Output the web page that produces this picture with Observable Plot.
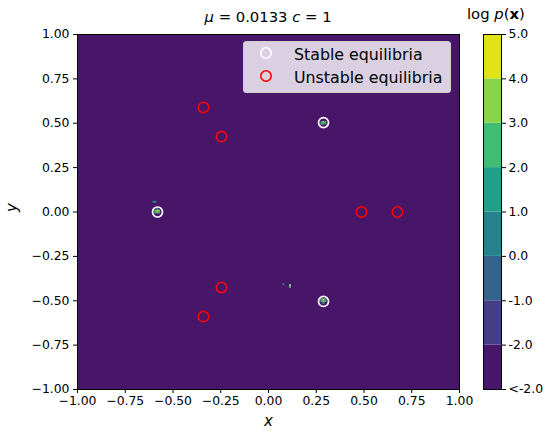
<!DOCTYPE html>
<html>
<head>
<meta charset="utf-8">
<script src="https://cdn.jsdelivr.net/npm/d3@7"></script>
<script src="https://cdn.jsdelivr.net/npm/@observablehq/plot@0.6"></script>
<style>
  html, body { margin: 0; padding: 0; background: #fff; }
  #chart { position: relative; width: 547px; height: 434px; font-family: "DejaVu Sans", sans-serif; color: #000; }
  #chart svg { position: absolute; top: 0; overflow: visible; }
  .title { position: absolute; font-size: 14.8px; white-space: nowrap; }
  .legend { position: absolute; left: 243px; top: 41px; width: 206px; height: 50px;
            background: rgba(255,255,255,0.8); border: 1px solid #cfcfcf; border-radius: 3px; }
  .legend .row { position: absolute; left: 0; height: 20px; font-size: 15.8px; white-space: nowrap; }
  .legend .row span { position: absolute; left: 50px; top: 0; line-height: 20px; }
  .legend .row svg { position: absolute; left: 14px; top: 3px; }
</style>
</head>
<body>
<div id="chart"></div>
<script>
// Equilibria of the system
const stableX = [-0.581, 0.288, 0.288];
const stableY = [0.0, 0.504, -0.504];
const unstableX = [-0.340, -0.246, 0.487, 0.675, -0.246, -0.340];
const unstableY = [0.589, 0.425, 0.0, 0.0, -0.425, -0.589];

// Grid cells where the log-density rises above the floor
const cellX = [
  -0.59, -0.58, -0.57, -0.59, -0.58, -0.57, -0.58,
  -0.60, -0.59,
  0.28, 0.29, 0.30, 0.28, 0.29, 0.30, 0.29,
  0.28, 0.29, 0.30, 0.28, 0.29, 0.30,
  0.08, 0.115, 0.115
];
const cellY = [
  0.005, 0.005, 0.005, -0.005, -0.005, -0.005, 0.015,
  0.055, 0.055,
  -0.495, -0.495, -0.495, -0.505, -0.505, -0.505, -0.515,
  0.505, 0.505, 0.505, 0.495, 0.495, 0.495,
  -0.41, -0.415, -0.425
];
const cellLogP = [
  2.5, 4.5, 3.5, 2.5, 3.5, 2.5, 1.5,
  0.5, 1.5,
  2.5, 4.5, 2.5, 2.5, 3.5, 2.5, 1.5,
  1.5, 3.5, 2.5, 2.5, 2.5, 1.5,
  0.5, 3.5, 2.5
];

// Contour levels and colour bar labels
const levels = [-2, -1, 0, 1, 2, 3, 4];
const barTicks = [-3, -2, -1, 0, 1, 2, 3, 4, 5];
const barLabels = ["<-2.0", "-2.0", "-1.0", "0.0", "1.0", "2.0", "3.0", "4.0", "5.0"];
const axisTicks = [-1, -0.75, -0.5, -0.25, 0, 0.25, 0.5, 0.75, 1];

const bandColors = d3.range(8).map(i => d3.interpolateViridis(0.055 + i * 0.895 / 7));

const cells = cellX.map((x, i) => ({x, y: cellY[i], v: cellLogP[i]}));
const stable = stableX.map((x, i) => ({x, y: stableY[i]}));
const unstable = unstableX.map((x, i) => ({x, y: unstableY[i]}));
const half = 0.0052;

const fmt = d3.format(".2f");
const font = {fontSize: 12.4, fontFamily: "DejaVu Sans"};

const main = Plot.plot({
  width: 547, height: 434,
  marginLeft: 77, marginRight: 88, marginTop: 34, marginBottom: 45,
  style: {fontFamily: "DejaVu Sans", fontSize: "12.4px", color: "#000", background: "transparent"},
  x: {domain: [-1, 1]},
  y: {domain: [-1, 1]},
  color: {type: "threshold", domain: levels, range: bandColors},
  marks: [
    Plot.frame({fill: bandColors[0], stroke: null}),
    Plot.rect(cells, {x1: d => d.x - half, x2: d => d.x + half,
                      y1: d => d.y - half, y2: d => d.y + half, fill: "v"}),
    Plot.dot(stable, {x: "x", y: "y", r: 5, stroke: "white", strokeWidth: 1.7, fill: "none"}),
    Plot.dot(unstable, {x: "x", y: "y", r: 5.2, stroke: "#ff0000", strokeWidth: 1.6, fill: "none"}),
    Plot.frame({stroke: "#000", strokeWidth: 1}),
    Plot.axisX({ticks: axisTicks, tickFormat: fmt, tickSize: 4, tickPadding: 3, label: null, ...font}),
    Plot.axisY({ticks: axisTicks, tickFormat: fmt, tickSize: 4, tickPadding: 4, label: null, ...font}),
    Plot.text(["x"], {frameAnchor: "bottom", dy: 36, text: d => d, fontSize: 15, fontStyle: "italic", fontFamily: "DejaVu Sans"}),
    Plot.text(["y"], {frameAnchor: "left", dx: -65, rotate: -90, text: d => d, fontSize: 15, fontStyle: "italic", fontFamily: "DejaVu Sans"})
  ]
});

// Colour bar: one band per contour interval, the lowest one open below
const bandLo = [-3, -2, -1, 0, 1, 2, 3, 4];
const bands = bandLo.map((lo, i) => ({lo, hi: lo + 1, c: bandColors[i]}));

const bar = Plot.plot({
  width: 64, height: 434,
  marginLeft: 0, marginRight: 46, marginTop: 34, marginBottom: 45,
  style: {fontFamily: "DejaVu Sans", fontSize: "12.4px", color: "#000", background: "transparent"},
  x: {domain: [0, 1], axis: null},
  y: {domain: [-3, 5]},
  marks: [
    Plot.rect(bands, {x1: 0, x2: 1, y1: "lo", y2: "hi", fill: "c"}),
    Plot.frame({stroke: "#000", strokeWidth: 1}),
    Plot.axisY({anchor: "right", ticks: barTicks, tickFormat: (d, i) => barLabels[i], tickSize: 4, tickPadding: 3, label: null, ...font})
  ]
});

const chart = document.getElementById("chart");
main.style.left = "0px";
bar.style.left = "483px";
chart.appendChild(main);
chart.appendChild(bar);

// Titles
const title = document.createElement("div");
title.className = "title";
title.innerHTML = '<i>μ</i> = 0.0133 <i>c</i> = 1';
chart.appendChild(title);
title.style.top = "8px";
title.style.left = (268 - title.offsetWidth / 2) + "px";

const barTitle = document.createElement("div");
barTitle.className = "title";
barTitle.innerHTML = 'log <i>p</i>(<b>x</b>)';
chart.appendChild(barTitle);
barTitle.style.top = "5px";
barTitle.style.left = (496 - barTitle.offsetWidth / 2) + "px";

// Legend
const legend = document.createElement("div");
legend.className = "legend";
const entries = [["Stable equilibria", "white"], ["Unstable equilibria", "#ff0000"]];
entries.forEach(([label, color], i) => {
  const row = document.createElement("div");
  row.className = "row";
  row.style.top = (3 + i * 23) + "px";
  row.style.width = "100%";
  row.innerHTML = `<svg width="16" height="16"><circle cx="8" cy="8" r="5.2" fill="none" stroke="${color}" stroke-width="1.6"/></svg><span>${label}</span>`;
  legend.appendChild(row);
});
chart.appendChild(legend);
</script>
</body>
</html>
